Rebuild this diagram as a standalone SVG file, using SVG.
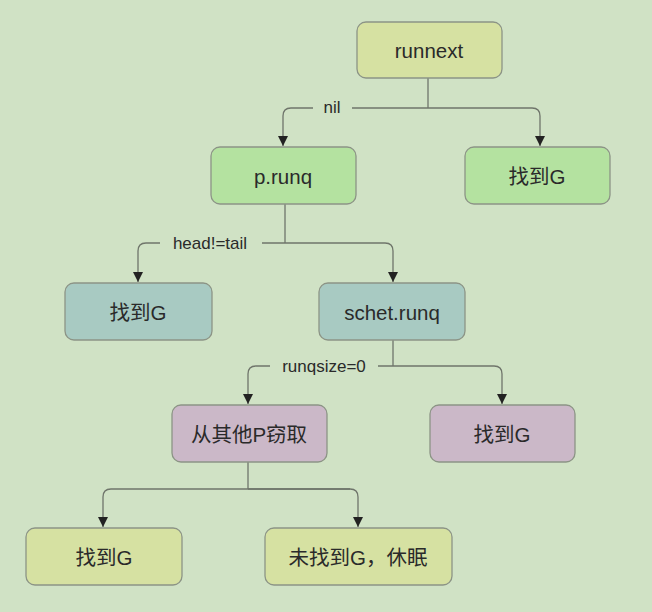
<svg xmlns="http://www.w3.org/2000/svg" width="652" height="612" viewBox="0 0 652 612">
<style>
text{font-family:"Liberation Sans","Noto Sans CJK SC",sans-serif;fill:#2a2a2a;text-anchor:middle;dominant-baseline:central}
.n{font-size:20.5px}
.l{font-size:17px}
.b rect{stroke:#8c9486;stroke-width:1.3}
.y{fill:#d6e1a2}
.g{fill:#b4e2a0}
.t{fill:#a8cac2}
.p{fill:#cbb8c8}
.c path{fill:none;stroke:#6f756b;stroke-width:1.3}
</style>
<defs>
<marker id="a" viewBox="0 0 10 10" refX="10" refY="5" markerWidth="10" markerHeight="10" markerUnits="userSpaceOnUse" orient="auto">
<path d="M0,0 L10,5 L0,10 Z" fill="#222"/>
</marker>
</defs>
<rect x="0" y="0" width="652" height="612" fill="#d0e2c5"/>
<g class="c" id="connectors">
<path d="M428,78 V108"/>
<path d="M313,108 H291 Q283,108 283,116 V146" marker-end="url(#a)"/>
<path d="M352,108 H532 Q540,108 540,116 V146" marker-end="url(#a)"/>
<path d="M285,204 V243"/>
<path d="M160,243 H146 Q138,243 138,251 V282" marker-end="url(#a)"/>
<path d="M262,243 H385 Q393,243 393,251 V282" marker-end="url(#a)"/>
<path d="M393,340 V366"/>
<path d="M270,366 H256 Q248,366 248,374 V404" marker-end="url(#a)"/>
<path d="M378,366 H494 Q502,366 502,374 V404" marker-end="url(#a)"/>
<path d="M248,462 V489"/>
<path d="M350,489 H111 Q103,489 103,497 V527" marker-end="url(#a)"/>
<path d="M248,489 H350 Q358,489 358,497 V527" marker-end="url(#a)"/>
</g>
<text class="l" x="332" y="107">nil</text>
<text class="l" x="210" y="243">head!=tail</text>
<text class="l" x="324" y="366">runqsize=0</text>
<g class="b" id="runnext"><rect class="y" x="357" y="22" width="145" height="56" rx="9"/><text class="n" x="429" y="50">runnext</text></g>
<g class="b" id="prunq"><rect class="g" x="211" y="147" width="145" height="57" rx="9"/><text class="n" x="283" y="176">p.runq</text></g>
<g class="b" id="found1"><rect class="g" x="465" y="147" width="145" height="57" rx="9"/><text class="n" x="537" y="176">找到G</text></g>
<g class="b" id="found2"><rect class="t" x="65" y="283" width="147" height="57" rx="9"/><text class="n" x="138" y="312">找到G</text></g>
<g class="b" id="schet"><rect class="t" x="319" y="283" width="146" height="57" rx="9"/><text class="n" x="392" y="312">schet.runq</text></g>
<g class="b" id="steal"><rect class="p" x="172" y="405" width="155" height="57" rx="9"/><text class="n" x="249" y="434">从其他P窃取</text></g>
<g class="b" id="found3"><rect class="p" x="430" y="405" width="145" height="57" rx="9"/><text class="n" x="502" y="434">找到G</text></g>
<g class="b" id="found4"><rect class="y" x="26" y="528" width="156" height="57" rx="9"/><text class="n" x="104" y="557">找到G</text></g>
<g class="b" id="sleep"><rect class="y" x="265" y="528" width="187" height="57" rx="9"/><text class="n" x="358" y="557">未找到G，休眠</text></g>
</svg>
